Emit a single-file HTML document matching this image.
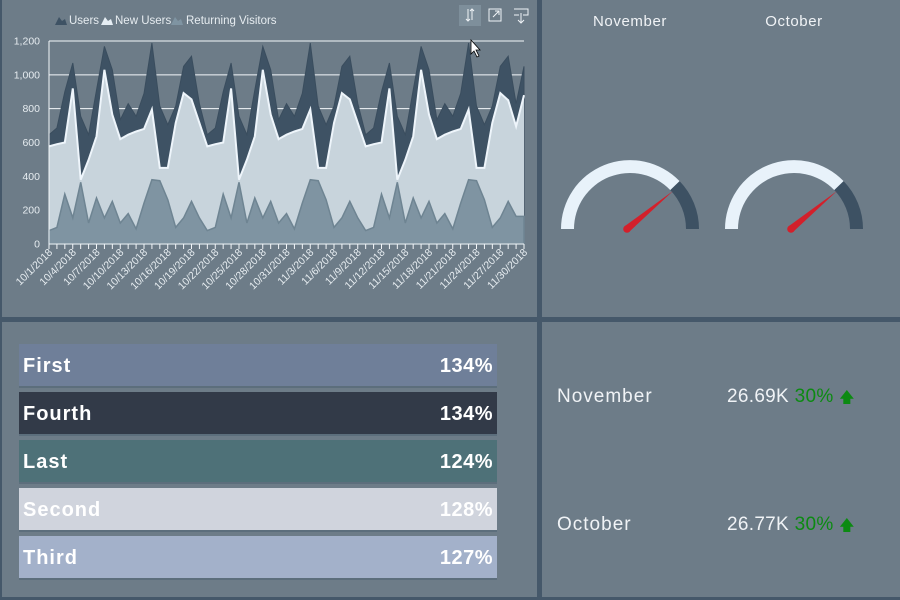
<!DOCTYPE html>
<html><head><meta charset="utf-8"><style>
*{margin:0;padding:0;box-sizing:border-box}
body{width:900px;height:600px;background:#6d7c88;position:relative;overflow:hidden;font-family:"Liberation Sans",Arial,sans-serif;color:#eef2f5}
.sep{position:absolute;background:#45586a}
.bar{position:absolute;left:19px;width:478px;height:44px;font-weight:bold;font-size:20px;color:#fff;border-bottom:2px solid #5c6e7c;letter-spacing:1px}
.bar span{position:absolute;top:11px}
.bar .l{left:4px}.bar .r{right:4px;letter-spacing:0.5px}
.t{position:absolute;font-size:19px;color:#f0f3f6;white-space:nowrap;letter-spacing:1px}
.g{color:#0c8a12}
</style></head><body>
<div class="sep" style="left:0;top:0;width:2px;height:600px"></div>
<div class="sep" style="left:537px;top:0;width:5px;height:600px"></div>
<div class="sep" style="left:0;top:317px;width:900px;height:5px"></div>
<div class="sep" style="left:0;top:597px;width:900px;height:3px"></div>

<svg id="ch" width="537" height="317" style="position:absolute;left:0;top:0" font-family="Liberation Sans, Arial, sans-serif"></svg>

<svg width="358" height="160" style="position:absolute;left:542px;top:0" font-family="Liberation Sans, Arial, sans-serif">
<text x="88" y="26" font-size="15" fill="#f0f3f6" text-anchor="middle" letter-spacing="0.6">November</text>
<text x="252" y="26" font-size="15" fill="#f0f3f6" text-anchor="middle" letter-spacing="0.6">October</text>
</svg>
<svg width="358" height="100" style="position:absolute;left:542px;top:150px">
<g id="g1"></g>
</svg>

<div class="bar" style="top:344px;background:#6f7f99"><span class="l">First</span><span class="r">134%</span></div>
<div class="bar" style="top:392px;background:#323a48"><span class="l">Fourth</span><span class="r">134%</span></div>
<div class="bar" style="top:440px;background:#4e7178"><span class="l">Last</span><span class="r">124%</span></div>
<div class="bar" style="top:488px;background:#d0d4dd"><span class="l">Second</span><span class="r">128%</span></div>
<div class="bar" style="top:536px;background:#a3b1ca"><span class="l">Third</span><span class="r">127%</span></div>

<div class="t" style="left:557px;top:386px">November</div>
<div class="t" style="left:727px;top:386px;letter-spacing:0.3px">26.69K <span class="g">30%</span> <span class="g" style="font-size:15px">&#129093;</span></div>
<div class="t" style="left:557px;top:514px">October</div>
<div class="t" style="left:727px;top:514px;letter-spacing:0.3px">26.77K <span class="g">30%</span> <span class="g" style="font-size:15px">&#129093;</span></div>

<script>
var U=[646,686,900,1070,755,646,910,1168,1030,735,830,755,890,1188,815,705,815,1050,1110,830];
var N=[577,590,600,920,380,498,636,1030,765,620,646,665,680,795,450,450,715,892,855,715];
var R=[79,98,295,154,365,124,272,154,252,124,180,89,242,380,374,262,98,154,252,154];
var u=[],n=[],r=[];
for(var i=0;i<61;i++){u.push(U[i%20]);n.push(N[i%20]);r.push(R[i%20]);}
u[58]=1110;n[58]=850;r[58]=252;u[59]=830;n[59]=695;r[59]=163;u[60]=1050;n[60]=880;r[60]=163;
var x0=49,x1=524,y0=244,k=203/1200,st=(x1-x0)/60;
function X(i){return x0+i*st}function Y(v){return y0-v*k}
function area(a){var s="M"+x0+","+y0;for(var i=0;i<61;i++)s+=" L"+X(i).toFixed(1)+","+Y(a[i]).toFixed(1);return s+" L"+x1+","+y0+"Z";}
function line(a){var s="";for(var i=0;i<61;i++)s+=(i?" L":"M")+X(i).toFixed(1)+","+Y(a[i]).toFixed(1);return s;}
var h="";
[1200,1000,800].forEach(function(v){h+='<line x1="'+x0+'" x2="'+x1+'" y1="'+Y(v)+'" y2="'+Y(v)+'" stroke="#f4f7fa" stroke-width="1"/>';});
h+='<path d="'+area(u)+'" fill="#3e5264" stroke="#3a4d5e"/>';
h+='<path d="'+area(n)+'" fill="#c8d4dc"/>';
h+='<path d="'+line(n)+'" fill="none" stroke="#eef5fb" stroke-width="2"/>';
h+='<path d="'+area(r)+'" fill="#7f94a2" stroke="#6e8492" stroke-width="1.5"/>';
h+='<line x1="'+x0+'" x2="'+x0+'" y1="41" y2="'+y0+'" stroke="#f4f7fa"/>';
h+='<line x1="'+x0+'" x2="'+x1+'" y1="'+y0+'" y2="'+y0+'" stroke="#f4f7fa"/>';
[0,200,400,600,800,1000,1200].forEach(function(v){h+='<text x="40" y="'+(Y(v)+3.5)+'" font-size="10.5" fill="#e6ecf0" text-anchor="end">'+(v>=1000?v.toString().replace(/(\d)(\d{3})/,"$1,$2"):v)+'</text>';});
for(var i=0;i<61;i++){h+='<line x1="'+X(i)+'" x2="'+X(i)+'" y1="'+y0+'" y2="'+(y0+5)+'" stroke="#f4f7fa"/>';}
for(var i=0;i<61;i+=3){var d=new Date(2018,9,1+i);var s=(d.getMonth()+1)+"/"+d.getDate()+"/2018";var xx=X(i)+4,yy=y0+9;h+='<text transform="translate('+xx+','+yy+') rotate(-45)" font-size="10.5" fill="#e6ecf0" text-anchor="end">'+s+'</text>';}
h+='<path d="M55,25 l4,-8 l3,4 l3,-2 l2,6z" fill="#3e5264"/><text x="69" y="24" font-size="11.5" fill="#e6ecf0">Users</text>';
h+='<path d="M101,25 l4,-8 l3,4 l3,-2 l2,6z" fill="#e6eef4"/><text x="115" y="24" font-size="11.5" fill="#e6ecf0">New Users</text>';
h+='<path d="M171,25 l4,-8 l3,4 l3,-2 l2,6z" fill="#7f94a2"/><text x="186" y="24" font-size="11.5" fill="#e6ecf0">Returning Visitors</text>';
h+='<rect x="459" y="5" width="22" height="21" fill="#7e8f9b"/>';
h+='<path d="M468,9 v12 M466,19 l2,2 l2,-2 M472,20 v-11 M470,11 l2,-2 l2,2" stroke="#f0f4f7" fill="none"/>';
h+='<path d="M489,9 h12 v12 h-12z M493,17 l6,-6 M495,11 h4 v4" stroke="#f0f4f7" fill="none"/>';
h+='<path d="M514,9 h14 v6 h-5 M519,15 h-5 z M521,13 v10 M518,20 l3,3 l3,-3" stroke="#f0f4f7" fill="none"/>';
h+='<path d="M471,40 v14 l3,-3 l3,6 l2,-1 l-3,-6 h4z" fill="#fff" stroke="#000" stroke-width="0.8"/>';
document.getElementById("ch").innerHTML=h;
function P(cx,cy,r,a){var t=a*Math.PI/180;return (cx+r*Math.cos(t)).toFixed(1)+","+(cy-r*Math.sin(t)).toFixed(1);}
function seg(cx,cy,a1,a2,c){var R=69,ri=56;return '<path d="M'+P(cx,cy,R,a1)+' A'+R+','+R+' 0 0 1 '+P(cx,cy,R,a2)+' L'+P(cx,cy,ri,a2)+' A'+ri+','+ri+' 0 0 0 '+P(cx,cy,ri,a1)+'Z" fill="'+c+'"/>';}
var g="";[88,252].forEach(function(cx){var cy=79;
g+=seg(cx,cy,180,44,"#e8f2fa")+seg(cx,cy,44,0,"#3d5163");
g+='<path d="M'+(cx-5)+','+(cy-3)+' L'+(cx+43)+','+(cy-38)+' L'+(cx-1)+','+(cy+3)+'z" fill="#d3202b"/><circle cx="'+(cx-3)+'" cy="'+cy+'" r="3.8" fill="#d3202b"/>';});
document.getElementById("g1").innerHTML=g;
</script>
</body></html>
